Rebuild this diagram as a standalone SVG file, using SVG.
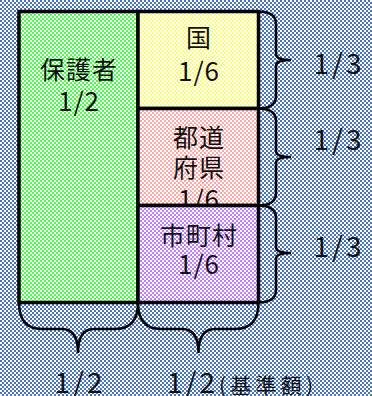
<svg xmlns="http://www.w3.org/2000/svg" width="372" height="396" viewBox="0 0 372 396">
<defs>
<pattern id="pBg" width="4" height="4" patternUnits="userSpaceOnUse"><rect width="4" height="4" fill="#ffffff"/><rect width="2" height="2" fill="#4a76b9"/><rect x="2" y="2" width="2" height="2" fill="#4a76b9"/></pattern>
<pattern id="pGreen" width="4" height="4" patternUnits="userSpaceOnUse"><rect width="4" height="4" fill="#ffffff"/><rect width="2" height="2" fill="#4dff4d"/><rect x="2" y="2" width="2" height="2" fill="#4dff4d"/></pattern>
<pattern id="pYellow" width="4" height="4" patternUnits="userSpaceOnUse"><rect width="4" height="4" fill="#ffffff"/><rect width="2" height="2" fill="#ffff80"/><rect x="2" y="2" width="2" height="2" fill="#ffff80"/></pattern>
<pattern id="pPink" width="4" height="4" patternUnits="userSpaceOnUse"><rect width="4" height="4" fill="#ffffff"/><rect width="2" height="2" fill="#ffaaaa"/><rect x="2" y="2" width="2" height="2" fill="#ffaaaa"/></pattern>
<pattern id="pPurple" width="4" height="4" patternUnits="userSpaceOnUse"><rect width="4" height="4" fill="#ffffff"/><rect width="2" height="2" fill="#bf80ff"/><rect x="2" y="2" width="2" height="2" fill="#bf80ff"/></pattern>
</defs>
<style>
.box{stroke:#000;stroke-width:3.5}
.t{font-family:"Noto Sans CJK JP","Noto Sans",sans-serif;fill:#111;text-anchor:middle}
.cj{font-size:25px;letter-spacing:1px}
.fr{font-size:26px;letter-spacing:1px}
.lb{font-size:28px;letter-spacing:3px}
.br{fill:none;stroke:#000;stroke-width:2.5}
</style>
<rect width="372" height="396" fill="url(#pBg)"/>
<g id="guardian">
<rect class="box" x="19" y="11.5" width="119" height="291" fill="url(#pGreen)"/>
<text class="t cj" x="79" y="79">保護者</text>
<text class="t fr" x="79" y="111">1/2</text>
</g>
<g id="kuni">
<rect class="box" x="138" y="11.5" width="120.5" height="97" fill="url(#pYellow)"/>
<text class="t cj" x="199" y="47">国</text>
<text class="t fr" x="199" y="81">1/6</text>
</g>
<g id="todofuken">
<rect class="box" x="138" y="108.5" width="120.5" height="97" fill="url(#pPink)"/>
<text class="t cj" x="199" y="147">都道</text>
<text class="t cj" x="199" y="177">府県</text>
<text class="t fr" x="199" y="209">1/6</text>
</g>
<g id="shichoson">
<rect class="box" x="138" y="205.5" width="120.5" height="97" fill="url(#pPurple)"/>
<text class="t cj" x="199" y="245">市町村</text>
<text class="t fr" x="199" y="274">1/6</text>
</g>
<g id="connectors">
<path class="br" d="M258,11.5 Q276,11.5 276,24 L276,54 Q276,60 291,60 Q276,60 276,66 L276,96 Q276,108.5 258,108.5"/>
<path class="br" d="M258,108.5 Q276,108.5 276,121 L276,151 Q276,157 291,157 Q276,157 276,163 L276,193 Q276,205.5 258,205.5"/>
<path class="br" d="M258,205.5 Q276,205.5 276,218 L276,247 Q276,253 291,253 Q276,253 276,259 L276,290 Q276,302.5 258,302.5"/>
<path class="br" d="M19,302.5 Q19,329 42,329 L62,329 Q78,329 78,353 Q78,329 94,329 L115,329 Q138,329 138,302.5"/>
<path class="br" d="M138,302.5 Q138,329 161,329 L182,329 Q198.5,329 198.5,353 Q198.5,329 215,329 L235,329 Q258.5,329 258.5,302.5"/>
</g>
<g id="labels">
<text class="t lb" x="339" y="74">1/3</text>
<text class="t lb" x="339" y="150">1/3</text>
<text class="t lb" x="339" y="257">1/3</text>
<text class="t lb" x="80" y="393">1/2</text>
<text class="t lb" x="167" y="393" style="text-anchor:start">1/2</text>
<text class="t" x="219" y="393" style="text-anchor:start;font-size:21px" textLength="94" lengthAdjust="spacing">(基準額)</text>
</g>
</svg>
